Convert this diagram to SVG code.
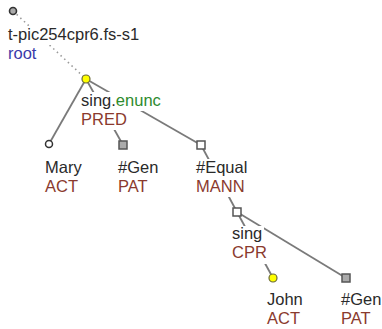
<svg xmlns="http://www.w3.org/2000/svg" width="382" height="329" viewBox="0 0 382 329">
<style>
text{font-family:"Liberation Sans",Arial,sans-serif;font-size:16.5px;fill:#2a2a2a}
.fn{fill:#8a3a2e}
.bl{fill:#3a3aaa}
.gr{fill:#2e8b2e}
.bg{fill:#fff}
.e{stroke:#7a7a7a;stroke-width:1.8;fill:none}
.d{stroke:#9a9a9a;stroke-width:1.6;stroke-dasharray:1.5 3.5;fill:none}
.cw{fill:#fff;stroke:#333;stroke-width:1.5}
.cy{fill:#ffff00;stroke:#6a6a3a;stroke-width:1.2}
.cg{fill:#aaa;stroke:#333;stroke-width:1.6}
.sg{fill:#aaa;stroke:#555;stroke-width:1.5}
.sw{fill:#fff;stroke:#555;stroke-width:1.5}
</style>
<g id="edges">
<line class="d" x1="13" y1="11" x2="86" y2="79"/>
<line class="e" x1="86" y1="79" x2="49" y2="144"/>
<line class="e" x1="86" y1="79" x2="123" y2="145"/>
<line class="e" x1="86" y1="79" x2="201" y2="145"/>
<line class="e" x1="201" y1="145" x2="237" y2="212"/>
<line class="e" x1="237" y1="212" x2="273" y2="278"/>
<line class="e" x1="237" y1="212" x2="346" y2="278"/>
</g>
<g id="root">
<rect class="bg" x="7" y="26" width="133" height="19"/>
<rect class="bg" x="7" y="45" width="31" height="19"/>
<text x="8" y="40">t-pic254cpr6.fs-s1</text>
<text class="bl" x="8" y="59">root</text>
<circle class="cg" cx="13" cy="11" r="3.5"/>
</g>
<g id="pred">
<rect class="bg" x="80" y="92" width="82" height="19"/>
<rect class="bg" x="80" y="111" width="48" height="19"/>
<text x="81" y="106">sing.<tspan class="gr">enunc</tspan></text>
<text class="fn" x="81" y="125">PRED</text>
<circle class="cy" cx="86" cy="79" r="4"/>
</g>
<g id="mary">
<rect class="bg" x="44" y="159" width="39" height="19"/>
<rect class="bg" x="44" y="178" width="35" height="19"/>
<text x="45" y="173">Mary</text>
<text class="fn" x="45" y="192">ACT</text>
<circle class="cw" cx="49" cy="144" r="3.5"/>
</g>
<g id="gen1">
<rect class="bg" x="117" y="159" width="43" height="19"/>
<rect class="bg" x="117" y="178" width="35" height="19"/>
<text x="118" y="173">#Gen</text>
<text class="fn" x="118" y="192">PAT</text>
<rect class="sg" x="119" y="141" width="8" height="8"/>
</g>
<g id="equal">
<rect class="bg" x="195" y="159" width="54" height="19"/>
<rect class="bg" x="195" y="178" width="51" height="19"/>
<text x="196" y="173">#Equal</text>
<text class="fn" x="196" y="192">MANN</text>
<rect class="sw" x="197" y="141" width="8" height="8"/>
</g>
<g id="sing">
<rect class="bg" x="231" y="226" width="33" height="19"/>
<rect class="bg" x="231" y="245" width="37" height="19"/>
<text x="232" y="239">sing</text>
<text class="fn" x="232" y="258">CPR</text>
<rect class="sw" x="233" y="208" width="8" height="8"/>
</g>
<g id="john">
<rect class="bg" x="266" y="291" width="38" height="19"/>
<rect class="bg" x="266" y="310" width="35" height="19"/>
<text x="267" y="305">John</text>
<text class="fn" x="267" y="324">ACT</text>
<circle class="cy" cx="273" cy="278" r="4"/>
</g>
<g id="gen2">
<rect class="bg" x="340" y="291" width="42" height="19"/>
<rect class="bg" x="340" y="310" width="35" height="19"/>
<text x="341" y="305">#Gen</text>
<text class="fn" x="341" y="324">PAT</text>
<rect class="sg" x="342" y="274" width="8" height="8"/>
</g>
</svg>
